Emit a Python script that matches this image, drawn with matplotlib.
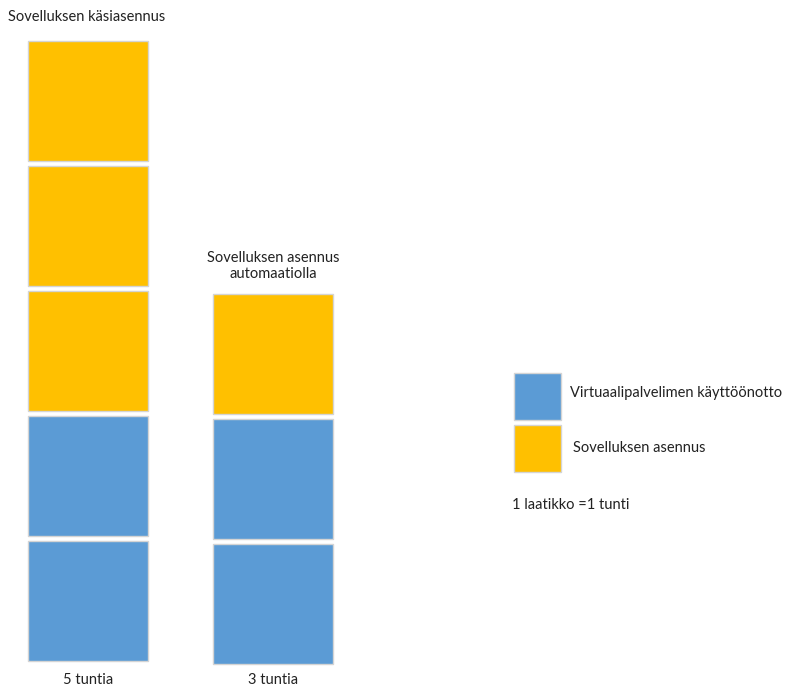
import matplotlib.pyplot as plt

# Data
columns = ["5 tuntia", "3 tuntia"]
titles = ["Sovelluksen käsiasennus", "Sovelluksen asennus\nautomaatiolla"]
vm_hours = [2, 2]          # Virtuaalipalvelimen käyttöönotto
app_hours = [3, 1]         # Sovelluksen asennus
legend_labels = ["Virtuaalipalvelimen käyttöönotto", "Sovelluksen asennus"]
note = "1 laatikko =1 tunti"

blue = "#5B9BD5"
orange = "#FFC000"
edge = "#d4d4d4"
fs = 10.5

plt.rcParams['font.family'] = ['Lato', 'DejaVu Sans']

fig = plt.figure(figsize=(7.93, 6.97), dpi=100)
ax = fig.add_axes([0, 0, 1, 1])
ax.set_xlim(0, 793)
ax.set_ylim(0, 697)
ax.axis("off")

# layout in pixels
x_centers = [88, 273]
bases = [36, 33]
box = 120
step = 125

for k in range(len(columns)):
    colors = [blue] * vm_hours[k] + [orange] * app_hours[k]
    for i, c in enumerate(colors):
        ax.bar(x_centers[k], box, width=box, bottom=bases[k] + i * step,
               color=c, edgecolor=edge, linewidth=1)
    ax.text(x_centers[k], 17, columns[k], ha="center", va="center", fontsize=fs, color="#222222")

ax.text(8, 680, titles[0], ha="left", va="center", fontsize=fs, color="#222222")
ax.text(273, 431, titles[1], ha="center", va="center", fontsize=fs, color="#222222",
        linespacing=1.25)

# legend
ax.bar(537.5, 47, width=47, bottom=277, color=blue, edgecolor=edge, linewidth=1)
ax.bar(537.5, 47, width=47, bottom=225, color=orange, edgecolor=edge, linewidth=1)
ax.text(570, 304, legend_labels[0], ha="left", va="center", fontsize=fs, color="#222222")
ax.text(573, 249, legend_labels[1], ha="left", va="center", fontsize=fs, color="#222222")
ax.text(512, 192, note, ha="left", va="center", fontsize=fs, color="#222222")

fig.savefig("out.png", dpi=100)
